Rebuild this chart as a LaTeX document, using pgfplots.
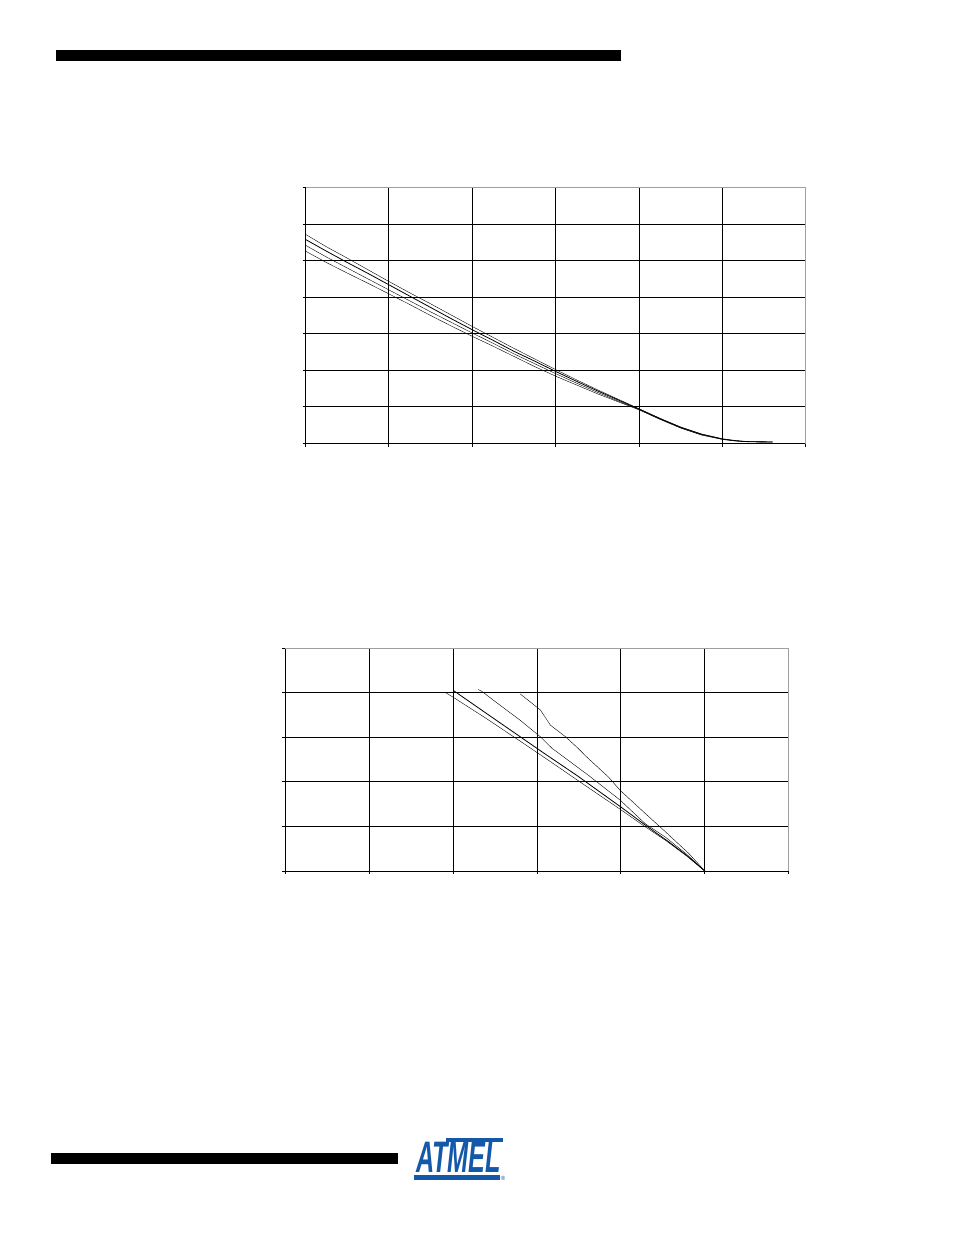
\documentclass[border=0pt]{standalone}
\usepackage{fontspec}
\setmainfont{Liberation Sans}
\usepackage{pgfplots}
\pgfplotsset{compat=1.18}
\definecolor{atmelblue}{RGB}{20,88,170}
\pgfplotsset{pagegrid/.style={
  scale only axis, axis x line*=bottom, axis y line*=left,
  axis line style={-, black, line width=1pt},
  tick align=outside, major tick length=3pt,
  tick style={black, line width=1pt},
  grid=major, major grid style={black, line width=1pt},
  xticklabels={}, yticklabels={},
  xmin=0, xmax=6, xtick={0,1,2,3,4,5,6}, clip=false,
  cycle list={{black, line width=0.8pt, mark=none}}
}}
\begin{document}
\begin{tikzpicture}
\path[fill=white] (0pt,0pt) rectangle (954pt,-1235pt);
\fill[black] (56pt,-50pt) rectangle (621pt,-61pt);
\fill[black] (51pt,-1153pt) rectangle (398pt,-1164pt);

% ---- chart 1 ----
\begin{axis}[pagegrid, at={(305.5pt,-187.5pt)}, anchor=north west,
  width=500.4pt, height=256pt, ymin=0, ymax=7, ytick={0,1,2,3,4,5,6,7}]
\addplot coordinates {(0,5.72)(0.25,5.38)(0.5,5.07)(0.75,4.75)(1,4.43)(1.25,4.12)(1.5,3.82)(1.75,3.51)(2,3.20)(2.25,2.90)(2.5,2.60)(2.75,2.31)(3,2.02)(3.25,1.74)(3.5,1.47)(3.75,1.21)(4,0.95)(4.25,0.69)(4.5,0.45)(4.75,0.26)(5,0.13)(5.15,0.08)(5.3,0.05)(5.6,0.04)};
\addplot coordinates {(0,5.58)(0.25,5.26)(0.5,4.95)(0.75,4.65)(1,4.34)(1.25,4.03)(1.5,3.72)(1.75,3.41)(2,3.11)(2.25,2.82)(2.5,2.52)(2.75,2.25)(3,1.97)(3.25,1.70)(3.5,1.44)(3.75,1.19)(4,0.94)(4.25,0.68)(4.5,0.44)(4.75,0.25)(5,0.12)(5.15,0.08)(5.3,0.05)(5.6,0.04)};
\addplot coordinates {(0,5.42)(0.25,5.10)(0.5,4.80)(0.75,4.50)(1,4.20)(1.25,3.90)(1.5,3.60)(1.75,3.31)(2,3.02)(2.25,2.74)(2.5,2.45)(2.75,2.18)(3,1.91)(3.25,1.65)(3.5,1.40)(3.75,1.16)(4,0.93)(4.25,0.67)(4.5,0.43)(4.75,0.24)(5,0.12)(5.15,0.07)(5.3,0.05)(5.6,0.04)};
\addplot coordinates {(0,5.26)(0.25,4.95)(0.5,4.66)(0.75,4.38)(1,4.09)(1.25,3.80)(1.5,3.50)(1.75,3.21)(2,2.93)(2.25,2.66)(2.5,2.38)(2.75,2.10)(3,1.84)(3.25,1.60)(3.5,1.36)(3.75,1.14)(4,0.92)(4.25,0.66)(4.5,0.42)(4.75,0.23)(5,0.11)(5.15,0.07)(5.3,0.05)(5.6,0.04)};
\draw[gray!75, line width=1pt] (rel axis cs:0,1) -- (rel axis cs:1,1) -- (rel axis cs:1,0);
\end{axis}

% ---- chart 2 ----
\begin{axis}[pagegrid, at={(285.2pt,-648pt)}, anchor=north west,
  width=503.6pt, height=223pt, ymin=0, ymax=5, ytick={0,1,2,3,4,5}]
\addplot coordinates {(1.91,4.00)(1.99,3.91)(2.42,3.39)(2.84,2.86)(3.17,2.44)(3.51,2.00)(4.01,1.36)(4.29,0.99)(4.53,0.69)(4.78,0.34)(5,0)};
\addplot coordinates {(2.01,4.04)(2.40,3.53)(2.80,3.01)(3.10,2.62)(3.47,2.15)(4.01,1.42)(4.29,1.03)(4.55,0.68)(4.79,0.34)(5,0)};
\addplot coordinates {(2.30,4.07)(2.35,4.02)(2.48,3.83)(2.80,3.38)(3.04,3.01)(3.18,2.75)(3.61,2.15)(3.99,1.59)(4.29,1.06)(4.53,0.76)(4.78,0.38)(5,0)};
\addplot coordinates {(2.80,3.97)(3.04,3.61)(3.16,3.27)(3.34,3.01)(3.49,2.75)(3.59,2.56)(3.85,2.11)(3.99,1.81)(4.29,1.29)(4.53,0.88)(4.81,0.39)(5,0)};
\draw[gray!75, line width=1pt] (rel axis cs:0,1) -- (rel axis cs:1,1) -- (rel axis cs:1,0);
\end{axis}

% ---- logo ----
\node[atmelblue, inner sep=0pt, anchor=south west] at (416pt,-1173pt)
  {\scalebox{0.6}[1.05]{\fontsize{42}{42}\selectfont\bfseries\itshape ATMEL}};
\fill[atmelblue] (414pt,-1175pt) rectangle (500pt,-1180pt);
\fill[atmelblue] (446pt,-1138pt) rectangle (503pt,-1141.5pt);
\node[atmelblue, inner sep=0pt, font=\fontsize{6}{6}\selectfont] at (503pt,-1178pt) {®};
\end{tikzpicture}
\end{document}
